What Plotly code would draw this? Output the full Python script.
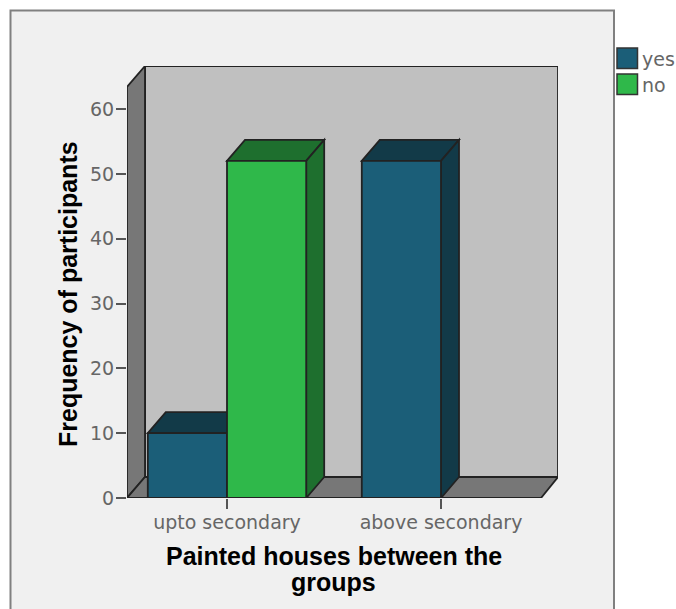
import plotly.graph_objects as go

categories = ["upto secondary", "above secondary"]
yes_values = [10, 52]
no_values = [52, 0]
y_ticks = [0, 10, 20, 30, 40, 50, 60]
x_title_lines = ["Painted houses between the", "groups"]
y_title = "Frequency of participants"

W, H = 676, 609
L, R, T, B = 127, 558, 66, 498  # plot area in page pixels
px_per_cat = 214.0
px_per_unit = 6.483
x0 = -(227 - L) / px_per_cat
x1 = (R - 227) / px_per_cat
y1 = (B - T) / px_per_unit
dx = 18 / px_per_cat
dy = 21 / px_per_unit
axis_end = (541 - 441) / px_per_cat + 1
axis_top = (B - 87) / px_per_unit
bar_w = 79.2 / px_per_cat

EDGE = "#222222"
EDGE_W = 1.8
WALL = "#777777"
BACK = "#c0c0c0"
PANEL = "#f0f0f0"
BLUE, BLUE_D = "#1b5e78", "#123a48"
GREEN, GREEN_D = "#2fb84a", "#1e6f2e"


def poly(pts, fill):
    path = "M " + " L ".join(f"{a} {b}" for a, b in pts) + " Z"
    return dict(type="path", path=path, xref="x", yref="y", layer="below",
                fillcolor=fill, line=dict(color=EDGE, width=EDGE_W))


def fx(px):
    return (px - L) / (R - L)


def fy(px):
    return 1 - (px - T) / (B - T)


shapes = [
    dict(type="rect", xref="paper", yref="paper", layer="below",
         x0=fx(10.5), x1=fx(614), y0=fy(10.5), y1=fy(640),
         fillcolor=PANEL, line=dict(color="#808080", width=2)),
    dict(type="rect", xref="x", yref="y", layer="below", x0=x0 + dx, x1=x1, y0=dy, y1=y1,
         fillcolor=BACK, line=dict(color=EDGE, width=EDGE_W)),
    poly([(x0, 0), (x0 + dx, dy), (x0 + dx, y1), (x0, axis_top)], WALL),
    poly([(x0, 0), (x0 + dx, dy), (x1, dy), (axis_end, 0)], WALL),
]

for series, side, top, offset in [(yes_values, BLUE_D, BLUE_D, -bar_w), (no_values, GREEN_D, GREEN_D, 0)]:
    for i, v in enumerate(series):
        if v <= 0:
            continue
        a, b = i + offset, i + offset + bar_w
        shapes.append(poly([(a, v), (a + dx, v + dy), (b + dx, v + dy), (b, v)], top))
        shapes.append(poly([(b, 0), (b + dx, dy), (b + dx, v + dy), (b, v)], side))

# legend swatches
for (top_px, colour) in [(48, BLUE), (74, GREEN)]:
    shapes.append(dict(type="rect", xref="paper", yref="paper",
                       x0=fx(617), x1=fx(637.5), y0=fy(top_px), y1=fy(top_px + 20.5),
                       fillcolor=colour, line=dict(color="#333333", width=1.5)))

fig = go.Figure()
fig.add_bar(name="yes", x=[0, 1], y=yes_values, marker=dict(color=BLUE, line=dict(color=EDGE, width=EDGE_W)))
fig.add_bar(name="no", x=[0, 1], y=no_values, marker=dict(color=GREEN, line=dict(color=EDGE, width=EDGE_W)))

tick_font = dict(family="DejaVu Sans", size=19, color="#666666")
title_font = dict(family="Liberation Sans", size=25, color="#000000")

annotations = [
    dict(text="<b>" + x_title_lines[0] + "</b>", xref="paper", yref="paper", x=fx(333.5), y=fy(556),
         showarrow=False, xanchor="center", yanchor="middle", font=title_font),
    dict(text="<b>" + x_title_lines[1] + "</b>", xref="paper", yref="paper", x=fx(333.5), y=fy(582),
         showarrow=False, xanchor="center", yanchor="middle", font=title_font),
    dict(text="<b>" + y_title + "</b>", xref="paper", yref="paper", x=fx(68), y=fy(294), showarrow=False,
         textangle=-90, xanchor="center", yanchor="middle", font=title_font),
    dict(text="yes", xref="paper", yref="paper", x=fx(640), y=fy(59), showarrow=False,
         xanchor="left", yanchor="middle", font=tick_font),
    dict(text="no", xref="paper", yref="paper", x=fx(640), y=fy(85), showarrow=False,
         xanchor="left", yanchor="middle", font=tick_font),
]

fig.update_layout(
    width=W, height=H, autosize=False,
    margin=dict(l=L, r=W - R, t=T, b=H - B, pad=0),
    paper_bgcolor="#ffffff", plot_bgcolor="rgba(0,0,0,0)",
    barmode="group", bargap=1 - 2 * bar_w, bargroupgap=0,
    showlegend=False, shapes=shapes, annotations=annotations,
    xaxis=dict(range=[x0, x1], tickmode="array", tickvals=[0, 1], ticktext=categories,
               ticks="outside", ticklen=10, tickwidth=1.5, tickcolor="#555555", ticklabelstandoff=-3,
               showgrid=False, zeroline=False, showline=False, tickfont=tick_font),
    yaxis=dict(range=[0, y1], tickmode="array", tickvals=y_ticks,
               ticks="outside", ticklen=10, tickwidth=1.5, tickcolor="#555555", ticklabelstandoff=-2,
               showgrid=False, zeroline=False, showline=False, tickfont=tick_font),
)

fig.write_html("out.html", config=dict(displayModeBar=False),
               post_script="document.body.style.margin='0';")
